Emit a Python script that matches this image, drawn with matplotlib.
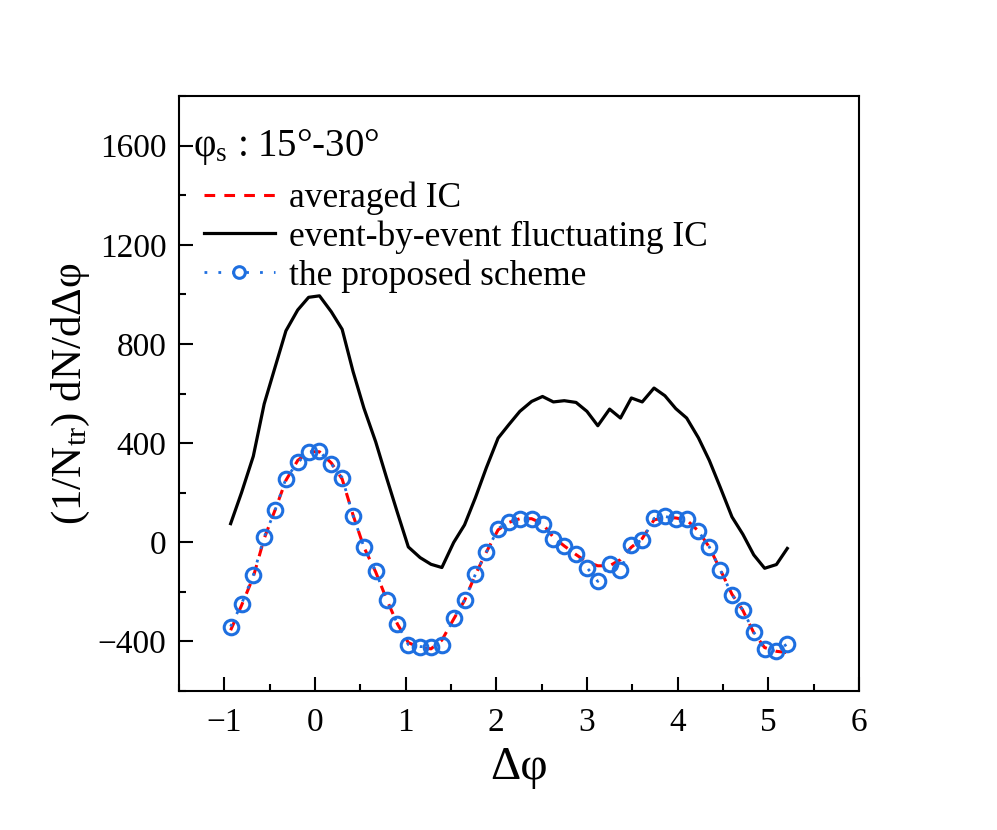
import matplotlib
matplotlib.use("Agg")
import matplotlib.pyplot as plt
from matplotlib.ticker import MultipleLocator

plt.rcParams['font.family'] = ['Liberation Serif', 'DejaVu Serif']
plt.rcParams['mathtext.fontset'] = 'custom'
plt.rcParams['mathtext.rm'] = 'Liberation Serif'
plt.rcParams['mathtext.it'] = 'Liberation Serif:italic'

# delta phi bin centres
dphi = [-0.93, -0.81, -0.68, -0.56, -0.44, -0.32, -0.19, -0.07, 0.05, 0.18,
        0.30, 0.42, 0.54, 0.67, 0.79, 0.91, 1.03, 1.16, 1.28, 1.40,
        1.53, 1.65, 1.77, 1.89, 2.02, 2.14, 2.26, 2.39, 2.51, 2.63,
        2.75, 2.88, 3.00, 3.12, 3.25, 3.37, 3.49, 3.61, 3.74, 3.86,
        3.98, 4.10, 4.23, 4.35, 4.47, 4.60, 4.72, 4.84, 4.96, 5.09, 5.21]

averaged = [-355, -255, -140, 15, 130, 250, 330, 365, 365, 320,
            255, 110, -20, -120, -230, -330, -405, -425, -430, -395,
            -310, -235, -130, -40, 50, 80, 95, 95, 75, 20,
            -15, -50, -80, -95, -95, -70, -20, 15, 90, 100,
            98, 90, 45, -20, -110, -210, -275, -365, -425, -440, -445]

ebe = [75, 200, 347, 558, 706, 853, 937, 988, 994, 930,
       859, 689, 541, 405, 260, 119, -19, -62, -89, -102,
       -1, 70, 180, 300, 420, 475, 528, 568, 588, 566,
       571, 564, 528, 470, 537, 501, 582, 566, 622, 591,
       539, 501, 421, 330, 222, 102, 32, -51, -105, -90, -25]

proposed = [-340, -249, -133, 21, 129, 257, 322, 363, 367, 316,
            261, 107, -19, -117, -233, -330, -413, -421, -421, -413,
            -306, -233, -129, -41, 55, 83, 95, 92, 74, 15,
            -15, -48, -102, -158, -88, -111, -11, 8, 96, 104,
            95, 92, 44, -19, -111, -212, -273, -363, -431, -440, -410]

xticks = [-1, 0, 1, 2, 3, 4, 5, 6]
yticks = [-400, 0, 400, 800, 1200, 1600]

fig = plt.figure(figsize=(9.97, 8.30), dpi=100)
ax = fig.add_axes([0.1795, 0.1675, 0.682, 0.7168])

blue = '#1E6FE0'
ax.plot(dphi, ebe, color='black', lw=2.3, label='event-by-event fluctuating IC', zorder=2)
ax.plot(dphi, averaged, color='red', lw=2.2, ls=(0, (3.5, 3)), label='averaged IC', zorder=3)
ax.plot(dphi, proposed, color=blue, lw=2.0, ls=(0, (1, 4)), marker='o', ms=10.5,
        mfc='none', mec=blue, mew=2.2, label='the proposed scheme', zorder=4)

ax.set_xlim(-1.5, 6)
ax.set_ylim(-600, 1800)
ax.set_xticks(xticks)
ax.set_xticklabels([str(v).replace('-', '\u2212') for v in xticks])
ax.set_yticks(yticks)
ax.set_yticklabels([str(v).replace('-', '\u2212') for v in yticks])
ax.xaxis.set_minor_locator(MultipleLocator(0.5))
ax.yaxis.set_minor_locator(MultipleLocator(200))
ax.tick_params(which='both', direction='in', top=False, right=False, width=1.5,
               labelsize=24)
ax.tick_params(which='major', length=10)
ax.tick_params(which='minor', length=5)
ax.tick_params(axis='x', which='major', pad=12)
ax.tick_params(axis='y', which='major', pad=9)
for s in ax.spines.values():
    s.set_linewidth(1.5)

ax.set_xlabel('Δφ', fontsize=34, labelpad=6)
ax.set_ylabel('(1/N$_{\\mathrm{tr}}$) dN/dΔφ', fontsize=31, labelpad=4)

ax.text(0.02, 0.915, 'φ$_{\\mathrm{s}}$ : 15°-30°', transform=ax.transAxes,
        fontsize=28, va='center', ha='left')

h, l = ax.get_legend_handles_labels()
order = [1, 0, 2]
leg = ax.legend([h[i] for i in order], [l[i] for i in order], loc='upper left',
                bbox_to_anchor=(0.0, 0.898), frameon=False, fontsize=25.5,
                handlelength=2.0, handletextpad=0.4, labelspacing=0.15,
                borderaxespad=0.3, markerscale=0.8)

fig.savefig('out.png', dpi=100)
